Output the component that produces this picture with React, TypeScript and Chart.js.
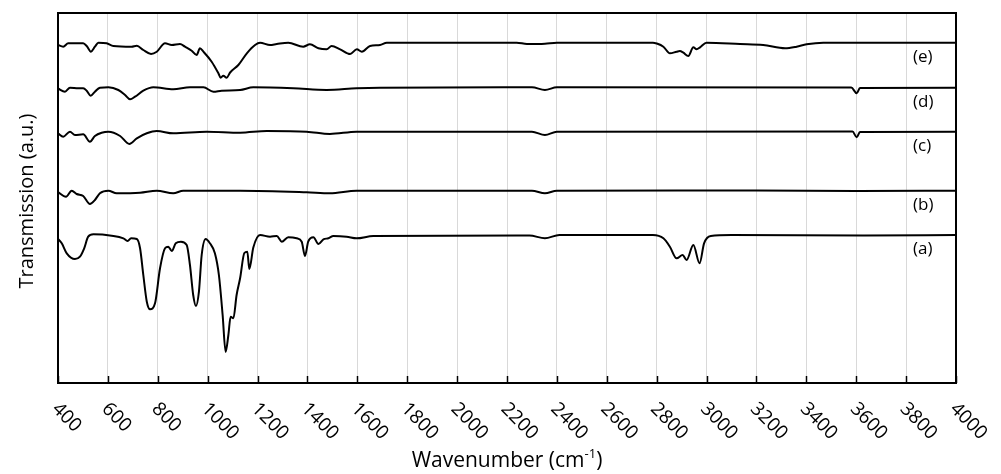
import React, { useEffect, useRef } from "react";
import { Chart, registerables } from "chart.js";

Chart.register(...registerables);

// Wavenumber (cm-1) and transmission (arbitrary, offset) for each spectrum
const aWn = [400, 415, 435, 468, 488, 505, 521, 542, 615, 662, 679, 693, 716, 729, 742, 756, 769, 789, 809, 829, 842, 856, 872, 893, 916, 929, 942, 953, 965, 976, 992, 1009, 1029, 1045, 1060, 1072, 1083, 1092, 1103, 1116, 1130, 1147, 1159, 1167, 1183, 1210, 1250, 1277, 1297, 1323, 1357, 1377, 1390, 1403, 1424, 1444, 1464, 1484, 1504, 1557, 1597, 1664, 2290, 2352, 2410, 2785, 2827, 2853, 2880, 2904, 2920, 2947, 2972, 2990, 3017, 3100, 3630, 4000];
const aT = [144, 139.7, 129.7, 124, 126.3, 134.7, 146.3, 148.7, 147.3, 144.7, 142, 144.7, 144, 134.7, 108, 81.3, 73.7, 79.7, 114.7, 134.7, 136.3, 132, 139.7, 141.3, 138, 118, 88, 77, 91.3, 128, 144, 139.7, 129.7, 108, 68, 31, 48, 66.3, 64.7, 88, 104.7, 130, 131.3, 114, 135.5, 148, 146.3, 147, 141.3, 145.7, 144.7, 141.3, 127, 141.3, 145.7, 139, 143.7, 144.7, 147, 146.3, 144.7, 147, 147.5, 144.7, 148, 148, 144.7, 136.3, 124.7, 128, 123, 138, 119.7, 139.7, 147, 148, 147.5, 148];

const bWn = [400, 432, 455, 475, 501, 528, 548, 568, 602, 635, 729, 796, 862, 902, 1130, 1397, 1490, 1597, 2300, 2352, 2400, 3200, 3600, 4000];
const bT = [191, 186.3, 192.3, 189, 187, 179, 183, 189.7, 192.3, 189.7, 190.3, 192.3, 189.7, 192.3, 192.3, 190.7, 189.7, 192.3, 192.3, 189.7, 192.3, 192.5, 192, 192.3];

const cWn = [400, 421, 448, 468, 501, 528, 548, 575, 602, 649, 686, 716, 756, 796, 862, 996, 1130, 1237, 1397, 1490, 1597, 2300, 2352, 2400, 3585, 3602, 3615, 4000];
const cT = [249.7, 246.3, 251.3, 248, 248.7, 241.3, 247, 250.3, 251.3, 247, 239, 244.7, 249.7, 252, 249.7, 251.3, 250.3, 252, 251.3, 249, 251.3, 251.3, 248, 251.3, 251.5, 245.7, 251, 251.3];

const dWn = [400, 428, 448, 481, 501, 515, 531, 548, 568, 602, 642, 669, 689, 709, 742, 782, 862, 929, 983, 1023, 1056, 1130, 1183, 1343, 1477, 1597, 1691, 2300, 2352, 2400, 3580, 3602, 3615, 4000];
const dT = [294.5, 291.3, 295.3, 294.7, 294.7, 292.3, 287.3, 291.3, 295.3, 295.7, 293, 288, 283.7, 286.3, 292.3, 295.7, 293.7, 295.7, 295.7, 291.3, 292.3, 293, 295.7, 294.7, 293, 294.7, 295.3, 295.7, 293, 295.7, 295.5, 289.7, 295, 295.3];

const eWn = [400, 421, 441, 501, 515, 532, 548, 562, 595, 622, 695, 716, 742, 773, 796, 829, 856, 889, 909, 936, 956, 969, 983, 1016, 1043, 1052, 1063, 1076, 1090, 1123, 1157, 1190, 1210, 1250, 1277, 1323, 1383, 1410, 1444, 1477, 1497, 1531, 1571, 1598, 1618, 1651, 1691, 1718, 1891, 2239, 2280, 2352, 2400, 2785, 2800, 2827, 2853, 2880, 2893, 2907, 2927, 2947, 2960, 2974, 3000, 3134, 3227, 3315, 3361, 3401, 3468, 3602, 3800, 4000];
const eT = [338, 336.3, 339.7, 339.7, 337, 331.3, 336.3, 340.3, 339.7, 337, 336.3, 337.3, 333, 329, 331.3, 339.7, 338, 339, 336.3, 332.3, 328, 334.7, 331.3, 321.3, 309.7, 305.3, 307.3, 305.3, 310.5, 318, 329.7, 338, 340.3, 338, 339, 340.3, 336.3, 338.7, 334.7, 333.7, 337, 333.7, 329, 333.7, 331.3, 337, 338, 340.3, 340.3, 340.3, 339, 339.3, 340.3, 340.3, 339.5, 336.3, 329.7, 331.3, 332, 330.3, 327, 335.7, 333.7, 335.7, 340.3, 339, 338, 334.7, 336.3, 338.7, 340.3, 340.3, 340.3, 340.3];

const seriesLabels = ["(a)", "(b)", "(c)", "(d)", "(e)"];
const seriesWn = [aWn, bWn, cWn, dWn, eWn];
const seriesT = [aT, bT, cT, dT, eT];

const xTicks = [400, 600, 800, 1000, 1200, 1400, 1600, 1800, 2000, 2200, 2400, 2600, 2800, 3000, 3200, 3400, 3600, 3800, 4000];
const xTitle = "Wavenumber (cm";
const xTitleSup = "-1";
const yTitle = "Transmission (a.u.)";

const FONT = "'Open Sans', 'Noto Sans', sans-serif";

const decorPlugin = {
  id: "decor",
  afterDraw(chart: any) {
    const ctx = chart.ctx;
    const area = chart.chartArea;
    const xs = chart.scales.x;
    const ys = chart.scales.y;
    ctx.save();
    // frame
    ctx.strokeStyle = "#000";
    ctx.lineWidth = 2;
    ctx.strokeRect(area.left, area.top, area.right - area.left, area.bottom - area.top);
    // inward ticks
    ctx.lineWidth = 1.5;
    xTicks.forEach((t) => {
      const px = Math.round(xs.getPixelForValue(t)) + 0.5;
      ctx.beginPath();
      ctx.moveTo(px, area.bottom);
      ctx.lineTo(px, area.bottom - 7);
      ctx.stroke();
    });
    // rotated tick labels
    ctx.fillStyle = "#000";
    ctx.font = `19px ${FONT}`;
    ctx.textAlign = "left";
    ctx.textBaseline = "middle";
    xTicks.forEach((t) => {
      const px = xs.getPixelForValue(t);
      ctx.save();
      ctx.translate(px - 3, area.bottom + 23);
      ctx.rotate(Math.PI / 4);
      ctx.fillText(String(t), 0, 0);
      ctx.restore();
    });
    // x title with superscript
    const mainFont = `21px ${FONT}`;
    const supFont = `13px ${FONT}`;
    ctx.textBaseline = "alphabetic";
    ctx.font = mainFont;
    const w1 = ctx.measureText(xTitle).width;
    ctx.font = supFont;
    const w2 = ctx.measureText(xTitleSup).width;
    ctx.font = mainFont;
    const w3 = ctx.measureText(")").width;
    const total = w1 + w2 + w3;
    const cx = (area.left + area.right) / 2;
    const x0 = cx - total / 2;
    const by = 467;
    ctx.fillText(xTitle, x0, by);
    ctx.font = supFont;
    ctx.fillText(xTitleSup, x0 + w1, by - 9);
    ctx.font = mainFont;
    ctx.fillText(")", x0 + w1 + w2, by);
    // y title
    ctx.save();
    ctx.translate(27, (area.top + area.bottom) / 2 + 3);
    ctx.rotate(-Math.PI / 2);
    ctx.textAlign = "center";
    ctx.textBaseline = "middle";
    ctx.font = `20px ${FONT}`;
    ctx.fillText(yTitle, 0, 0);
    ctx.restore();
    // series labels
    ctx.font = `17px ${FONT}`;
    ctx.textAlign = "left";
    ctx.textBaseline = "middle";
    seriesLabels.forEach((lab, i) => {
      const vals = seriesT[i];
      const py = ys.getPixelForValue(vals[vals.length - 1]);
      ctx.fillText(lab, area.right - 43, py + 14);
    });
    ctx.restore();
  },
};

export default function App() {
  const ref = useRef<HTMLCanvasElement | null>(null);
  useEffect(() => {
    if (!ref.current) return;
    const datasets = seriesLabels.map((lab, i) => ({
      label: lab,
      data: seriesWn[i].map((w, j) => ({ x: w, y: seriesT[i][j] })),
      borderColor: "#000",
      borderWidth: 2,
      pointRadius: 0,
      fill: false,
      cubicInterpolationMode: "monotone" as const,
    }));
    const chart = new Chart(ref.current, {
      type: "line",
      data: { datasets },
      options: {
        animation: false,
        responsive: false,
        layout: { padding: { left: 58, right: 45, top: 13, bottom: 91 } },
        plugins: { legend: { display: false }, tooltip: { enabled: false } },
        scales: {
          x: {
            type: "linear",
            min: 400,
            max: 4000,
            ticks: { stepSize: 200, display: false },
            grid: { color: "#d9d9d9", lineWidth: 1, drawTicks: false },
            border: { display: false },
          },
          y: {
            display: false,
            min: 0,
            max: 370,
          },
        },
      },
      plugins: [decorPlugin],
    });
    return () => chart.destroy();
  }, []);
  return (
    <div style={{ position: "absolute", left: 0, top: 0, width: 1001, height: 474, background: "#fff" }}>
      <canvas ref={ref} width={1001} height={474} style={{ display: "block" }} />
    </div>
  );
}
